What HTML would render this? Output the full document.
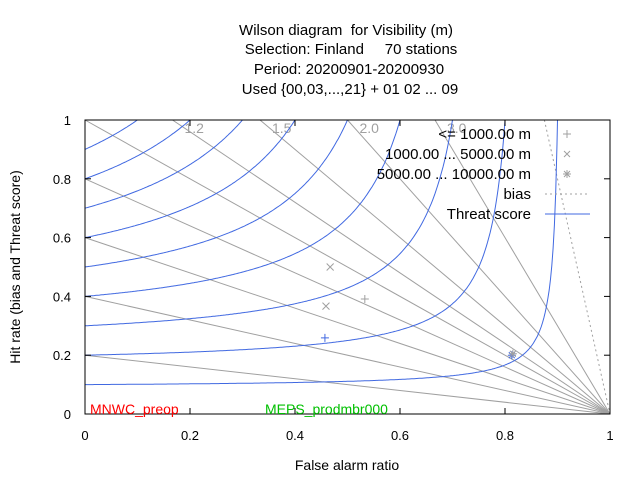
<!DOCTYPE html>
<html><head><meta charset="utf-8"><style>
body{margin:0;background:#fff;}
svg text{font-family:"Liberation Sans",sans-serif;white-space:pre;}
</style></head><body>
<svg id="c" width="640" height="480" xmlns="http://www.w3.org/2000/svg" xml:space="preserve">
<rect width="640" height="480" fill="#fff"/>
<g font-size="15" text-anchor="middle" fill="#000">
<text x="346" y="35">Wilson diagram  for Visibility (m)</text>
<text x="351" y="54">Selection: Finland     70 stations</text>
<text x="349" y="74">Period: 20200901-20200930</text>
<text x="350" y="94">Used {00,03,...,21} + 01 02 ... 09</text>
</g>
<g id="grid"></g>
<g id="marks"></g>
<rect x="85" y="120" width="525" height="294" fill="none" stroke="#000" stroke-width="1"/>
<g id="axes" font-size="13"></g>
<text x="347" y="470" font-size="14" text-anchor="middle">False alarm ratio</text>
<text transform="translate(20,267) rotate(-90)" font-size="14" text-anchor="middle">Hit rate (bias and Threat score)</text>
<g font-size="15" text-anchor="end">
<text x="531" y="139">&lt;= 1000.00 m</text>
<text x="531" y="159">1000.00 ... 5000.00 m</text>
<text x="531" y="179">5000.00 ... 10000.00 m</text>
<text x="531" y="199">bias</text>
<text x="531" y="219">Threat score</text>
<line x1="545" y1="194" x2="588" y2="194" stroke="#a0a0a0" stroke-dasharray="2,3"/>
<line x1="545" y1="214" x2="590" y2="214" stroke="#4169e1"/>
<g stroke="#a0a0a0" stroke-width="1">
<path d="M563,134h8M567,130v8"/>
<path d="M564,151l6,6M570,151l-6,6"/>
<path d="M563,174h8M567,170v8M564,171l6,6M570,171l-6,6"/>
</g>
</g>
<text x="90" y="414" font-size="14" fill="#ff0000">MNWC_preop</text>
<text x="265" y="414" font-size="14" fill="#00c000">MEPS_prodmbr000</text>
</svg>
<script>
const biasValues=[0.2,0.4,0.6,0.8,1.0,1.2,1.5,2.0,3.0];
const biasLabels=["1.2","1.5","2.0","3.0"];
const dottedBias=[8.0];
const tsValues=[0.1,0.2,0.3,0.4,0.5,0.6,0.7,0.8,0.9];
const xTicks=[0,0.2,0.4,0.6,0.8,1];
const yTicks=[0,0.2,0.4,0.6,0.8,1];
const ptFar=[0.533,0.467,0.459,0.457,0.813,0.815];
const ptHit=[0.391,0.5,0.367,0.259,0.2,0.205];
const ptShape=["plus","cross","cross","plus","star","star"];
const ptColor=["#a0a0a0","#a0a0a0","#a0a0a0","#4169e1","#4169e1","#a0a0a0"];
const NS="http://www.w3.org/2000/svg";
const X=v=>85+v*525, Y=v=>414-v*294;
function mk(t,a,p){const e=document.createElementNS(NS,t);for(const k in a)e.setAttribute(k,a[k]);p.appendChild(e);return e;}
const grid=document.getElementById('grid'),marks=document.getElementById('marks'),axes=document.getElementById('axes');
biasValues.forEach(b=>{
 let f0=0,h0=b; if(b>1){f0=1-1/b;h0=1;}
 const l=mk('line',{x1:X(f0),y1:Y(h0),x2:X(1),y2:Y(0),stroke:'#a0a0a0','stroke-width':1},grid);
 
 
});
dottedBias.forEach(b=>{
 const l=mk('line',{x1:X(1-1/b),y1:Y(1),x2:X(1),y2:Y(0),stroke:'#a0a0a0','stroke-dasharray':'2,3'},grid);
 
 
});
biasLabels.forEach(s=>{
 const b=parseFloat(s);
 const t=mk('text',{x:X(1-1/b)+12,y:Y(1)+13,'font-size':14,fill:'#a0a0a0'},grid);t.textContent=s;
 
 
});
tsValues.forEach(ts=>{
 let d='';
 for(let i=0;i<=400;i++){const f=i/400*0.999;const inv=1/ts+1-1/(1-f);
  if(inv<=1){d+='L'+X(1-ts).toFixed(1)+','+Y(1);break;}
  const h=1/inv;d+=(d?'L':'M')+X(f).toFixed(1)+','+Y(h).toFixed(1);}
 const p=mk('path',{d:d,fill:'none',stroke:'#4169e1','stroke-width':1},grid);
 
 
});
ptFar.forEach((f,i)=>{
 const x=X(f),y=Y(ptHit[i]),s=ptShape[i];let d;
 if(s==='plus')d=`M${x-4},${y}h8M${x},${y-4}v8`;
 else if(s==='cross')d=`M${x-3.5},${y-3.5}l7,7M${x+3.5},${y-3.5}l-7,7`;
 else d=`M${x-4},${y}h8M${x},${y-4}v8M${x-3},${y-3}l6,6M${x+3},${y-3}l-6,6`;
 const p=mk('path',{d:d,stroke:ptColor[i],'stroke-width':1,fill:'none'},marks);
 
 
});
xTicks.forEach(v=>{
 mk('line',{x1:X(v),y1:414,x2:X(v),y2:408,stroke:'#000'},axes);
 mk('line',{x1:X(v),y1:120,x2:X(v),y2:126,stroke:'#000'},axes);
 const t=mk('text',{x:X(v),y:440,'text-anchor':'middle'},axes);t.textContent=v===0||v===1?String(v):v.toFixed(1);
 
 
});
yTicks.forEach(v=>{
 mk('line',{x1:85,y1:Y(v),x2:91,y2:Y(v),stroke:'#000'},axes);
 mk('line',{x1:610,y1:Y(v),x2:604,y2:Y(v),stroke:'#000'},axes);
 const t=mk('text',{x:71,y:Y(v)+5,'text-anchor':'end'},axes);t.textContent=v===0||v===1?String(v):v.toFixed(1);
 
 
});
</script>
</body></html>
